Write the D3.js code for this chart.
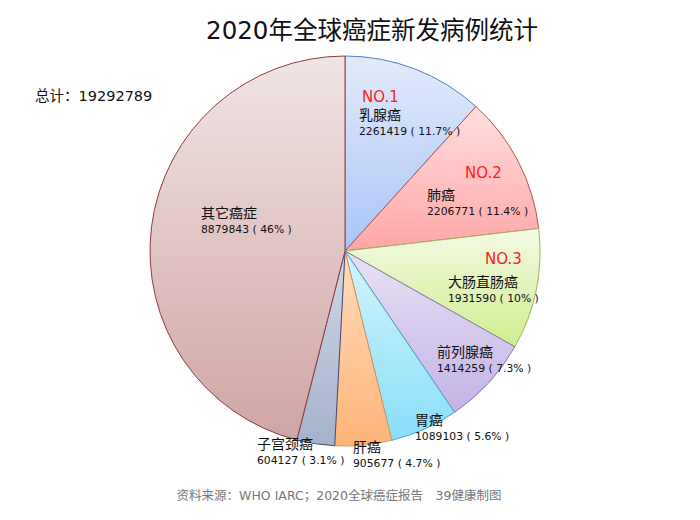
<!DOCTYPE html>
<html>
<head>
<meta charset="utf-8">
<script src="https://cdn.jsdelivr.net/npm/d3@7"></script>
<style>
  body { margin: 0; background: #fff; }
  text { font-family: "DejaVu Sans", "Noto Sans CJK SC", sans-serif; }
</style>
</head>
<body>
<svg id="chart" width="700" height="520"></svg>
<script>
// data
const names = ["乳腺癌", "肺癌", "大肠直肠癌", "前列腺癌", "胃癌", "肝癌", "子宫颈癌", "其它癌症"];
const cases = [2261419, 2206771, 1931590, 1414259, 1089103, 905677, 604127, 8879843];
const shares = ["11.7%", "11.4%", "10%", "7.3%", "5.6%", "4.7%", "3.1%", "46%"];
const ranks = ["NO.1", "NO.2", "NO.3"];
const total = 19292789;

// look of each slice: light / dark end of gradient, and edge
const fillTop = ["#e2ebfb", "#ffdede", "#f4fae4", "#e8e2f4", "#d4f4fd", "#ffdcbc", "#d0d6e4", "#f1e4e4"];
const fillBot = ["#a9c4f6", "#ffa6a6", "#cfee8e", "#c4b2e6", "#88def8", "#ffb478", "#a5b2cc", "#d0a4a4"];
const edges = ["#4f7fc4", "#b4555a", "#98b85a", "#8676b4", "#3fa6c8", "#e0944e", "#3f4f80", "#8e3c40"];

// where each label block starts (left x, baseline of name)
const labelAt = [[359, 120], [427, 200], [448, 287], [437, 357], [415, 425], [353, 452], [257, 449], [201, 218]];
const rankAt = [[362, 102], [465, 178], [485, 264]];

const svg = d3.select("#chart");
const cx = 345, cy = 251, r = 195;

const defs = svg.append("defs");
fillTop.forEach((c, i) => {
  const g = defs.append("linearGradient")
    .attr("id", "g" + i)
    .attr("x1", 0).attr("y1", 0).attr("x2", 0).attr("y2", 1);
  g.append("stop").attr("offset", "0%").attr("stop-color", c);
  g.append("stop").attr("offset", "100%").attr("stop-color", fillBot[i]);
});

const pie = d3.pie().sort(null).value((d) => d);
const arc = d3.arc().innerRadius(0).outerRadius(r);

svg.append("g")
  .attr("transform", `translate(${cx},${cy})`)
  .selectAll("path")
  .data(pie(cases))
  .enter()
  .append("path")
  .attr("d", arc)
  .attr("fill", (d, i) => `url(#g${i})`)
  .attr("stroke", (d, i) => edges[i])
  .attr("stroke-width", 1);

// slice labels
const lab = svg.append("g")
  .selectAll("g")
  .data(names)
  .enter()
  .append("g")
  .attr("transform", (d, i) => `translate(${labelAt[i][0]},${labelAt[i][1]})`);

lab.append("text")
  .attr("font-size", 14)
  .attr("fill", "#111")
  .text((d) => d);

lab.append("text")
  .attr("y", 15)
  .attr("font-size", 10.8)
  .attr("fill", "#111")
  .text((d, i) => `${cases[i]} ( ${shares[i]} )`);

svg.append("g")
  .selectAll("text")
  .data(ranks)
  .enter()
  .append("text")
  .attr("x", (d, i) => rankAt[i][0])
  .attr("y", (d, i) => rankAt[i][1])
  .attr("font-size", 15)
  .attr("fill", "#ff1a1a")
  .text((d) => d);

// title, total, source
svg.append("text")
  .attr("x", 372).attr("y", 39)
  .attr("text-anchor", "middle")
  .attr("font-size", 24.5)
  .attr("fill", "#111")
  .text("2020年全球癌症新发病例统计");

svg.append("text")
  .attr("x", 35).attr("y", 101)
  .attr("font-size", 14.5)
  .attr("fill", "#111")
  .text(`总计：${total}`);

svg.append("text")
  .attr("x", 339).attr("y", 500)
  .attr("text-anchor", "middle")
  .attr("font-size", 12.5)
  .attr("fill", "#777")
  .text("资料来源：WHO IARC；2020全球癌症报告　39健康制图");
</script>
</body>
</html>
